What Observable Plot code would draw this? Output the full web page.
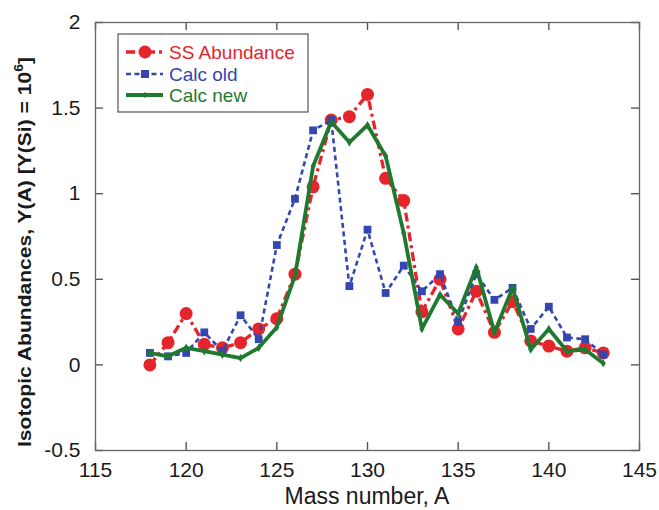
<!DOCTYPE html>
<html>
<head>
<meta charset="utf-8">
<script src="https://cdn.jsdelivr.net/npm/d3@7"></script>
<script src="https://cdn.jsdelivr.net/npm/@observablehq/plot@0.6"></script>
<style>
  html, body { margin: 0; padding: 0; background: #fff; }
  #chart { width: 659px; height: 510px; }
</style>
</head>
<body>
<div id="chart"></div>
<script>
const massNumbers = [118,119,120,121,122,123,124,125,126,127,128,129,130,131,132,133,134,135,136,137,138,139,140,141,142,143];
const ssAbundance = [0.00,0.13,0.30,0.12,0.10,0.13,0.21,0.27,0.53,1.04,1.43,1.45,1.58,1.09,0.96,0.31,0.50,0.21,0.43,0.19,0.37,0.14,0.11,0.08,0.10,0.07];
const calcOld     = [0.07,0.05,0.07,0.19,0.08,0.29,0.15,0.70,0.97,1.37,1.43,0.46,0.79,0.42,0.58,0.43,0.53,0.25,0.53,0.38,0.45,0.21,0.34,0.16,0.15,0.06];
const calcNew     = [0.07,0.05,0.10,0.08,0.06,0.04,0.10,0.22,0.52,1.16,1.42,1.30,1.40,1.22,0.77,0.21,0.41,0.30,0.57,0.19,0.45,0.09,0.21,0.08,0.09,0.01];
const xTicks = [115,120,125,130,135,140,145];
const yTicks = [-0.5,0,0.5,1,1.5,2];
const seriesNames = ["SS Abundance","Calc old","Calc new"];
const seriesColors = ["#e5242b","#3447b0","#1f7a30"];

const ss = massNumbers.map((a,i)=>({a, v: ssAbundance[i]}));
const old = massNumbers.map((a,i)=>({a, v: calcOld[i]}));
const nw = massNumbers.map((a,i)=>({a, v: calcNew[i]}));

const W = 659, H = 510;
const mL = 95, mR = 20, mT = 22, mB = 60;
const PW = W - mL - mR, PH = H - mT - mB;
const TK = 8;
const xDom = [115, 145], yDom = [-0.5, 2];
const tkX = TK * (xDom[1] - xDom[0]) / PW;   // tick length in x data units
const tkY = TK * (yDom[1] - yDom[0]) / PH;   // tick length in y data units
const tickStyle = {stroke: "#555", strokeWidth: 1.4};

const plot = Plot.plot({
  width: W, height: H,
  marginLeft: mL, marginRight: mR, marginTop: mT, marginBottom: mB,
  style: {fontFamily: "'Liberation Sans', Arial, sans-serif", fontSize: "21px", color: "#1a1a1a", background: "#fff"},
  x: {domain: xDom},
  y: {domain: yDom},
  marks: [
    Plot.axisX({anchor: "bottom", ticks: xTicks, tickSize: 0, tickPadding: 12, label: null, fontSize: 21}),
    Plot.axisY({anchor: "left", ticks: yTicks, tickSize: 0, tickPadding: 15, label: null, fontSize: 21, tickFormat: d => String(d)}),
    Plot.ruleX(xTicks, {x: d => d, y1: yDom[0], y2: yDom[0] + tkY, ...tickStyle}),
    Plot.ruleX(xTicks, {x: d => d, y1: yDom[1] - tkY, y2: yDom[1], ...tickStyle}),
    Plot.ruleY(yTicks, {y: d => d, x1: xDom[0], x2: xDom[0] + tkX, ...tickStyle}),
    Plot.ruleY(yTicks, {y: d => d, x1: xDom[1] - tkX, x2: xDom[1], ...tickStyle}),
    Plot.frame({stroke: "#666", strokeWidth: 1.3}),
    Plot.line(ss, {x: "a", y: "v", stroke: seriesColors[0], strokeWidth: 3.3, strokeDasharray: "9,4,3,4", strokeLinecap: "butt"}),
    Plot.dot(ss, {x: "a", y: "v", fill: seriesColors[0], r: 6.5, symbol: "circle"}),
    Plot.line(old, {x: "a", y: "v", stroke: seriesColors[1], strokeWidth: 2.6, strokeDasharray: "5,3.5", strokeLinecap: "butt"}),
    Plot.dot(old, {x: "a", y: "v", fill: seriesColors[1], r: 4.4, symbol: "square"}),
    Plot.line(nw, {x: "a", y: "v", stroke: seriesColors[2], strokeWidth: 3.8}),
    Plot.dot(nw, {x: "a", y: "v", fill: seriesColors[2], r: 2.6, symbol: "diamond"})
  ]
});
document.getElementById("chart").appendChild(plot);

const svg = d3.select(plot);

// Axis titles
svg.append("text")
  .attr("x", (mL + W - mR) / 2).attr("y", 504)
  .attr("text-anchor", "middle")
  .attr("font-size", 23).attr("fill", "#1a1a1a")
  .text("Mass number, A");

const yl = svg.append("text")
  .attr("transform", `translate(31,252) rotate(-90)`)
  .attr("text-anchor", "middle")
  .attr("font-size", 18).attr("font-weight", "bold").attr("fill", "#1a1a1a")
  .attr("textLength", 390).attr("lengthAdjust", "spacingAndGlyphs");
yl.append("tspan").text("Isotopic Abundances, Y(A) [Y(Si) = 10");
yl.append("tspan").attr("dy", -8).attr("font-size", 12).text("6");
yl.append("tspan").attr("dy", 8).text("]");

// Legend
const lg = svg.append("g");
lg.append("rect").attr("x", 118).attr("y", 34).attr("width", 190).attr("height", 78)
  .attr("fill", "#fff").attr("stroke", "#555").attr("stroke-width", 1.2);
const rows = [52, 74, 95];
const dashes = ["9,4,3,4", "5,3.5", null];
const widths = [3.3, 2.6, 3.8];
seriesNames.forEach((name, i) => {
  const y = rows[i];
  const ln = lg.append("line").attr("x1", 126).attr("x2", 163).attr("y1", y).attr("y2", y)
    .attr("stroke", seriesColors[i]).attr("stroke-width", widths[i]);
  if (dashes[i]) ln.attr("stroke-dasharray", dashes[i]);
  if (i === 0) lg.append("circle").attr("cx", 145).attr("cy", y).attr("r", 6.5).attr("fill", seriesColors[i]);
  if (i === 1) lg.append("rect").attr("x", 141).attr("y", y - 4).attr("width", 8).attr("height", 8).attr("fill", seriesColors[i]);
  if (i === 2) lg.append("path").attr("d", `M145,${y-3}L148,${y}L145,${y+3}L142,${y}Z`).attr("fill", seriesColors[i]);
  lg.append("text").attr("x", 169).attr("y", y).attr("dy", "0.36em")
    .attr("text-anchor", "start")
    .attr("font-size", 19).attr("fill", seriesColors[i]).text(name);
});
</script>
</body>
</html>
